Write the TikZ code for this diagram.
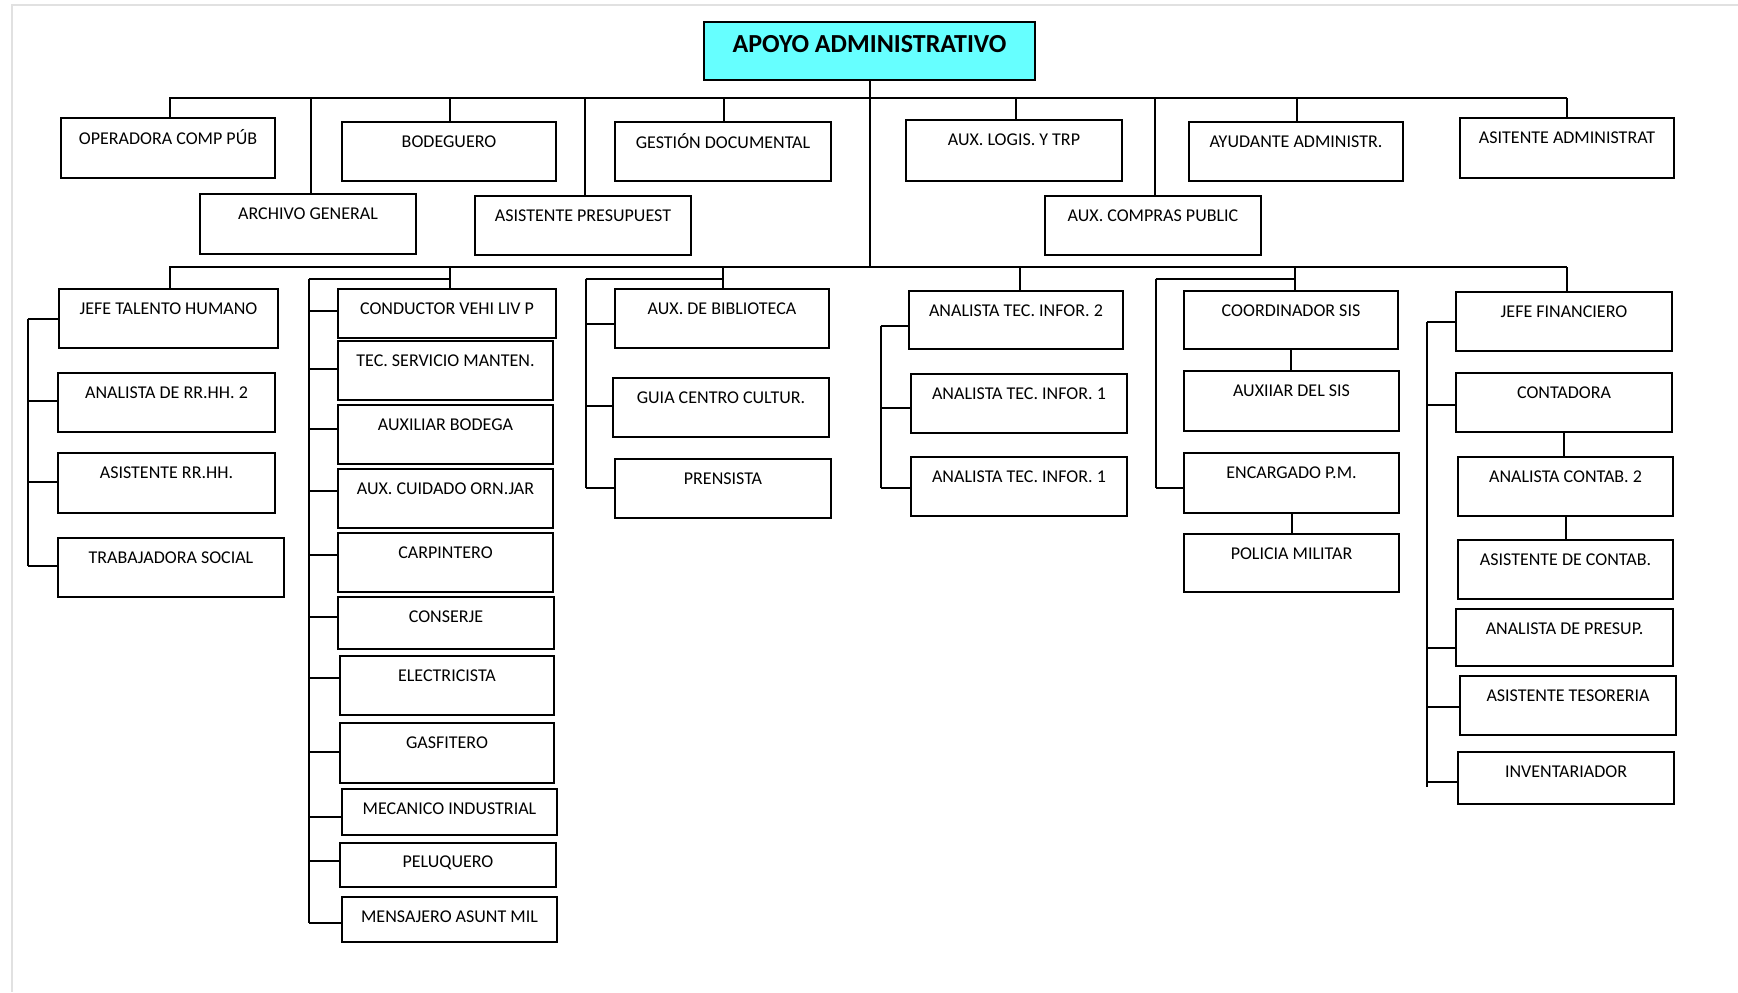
\documentclass[tikz,border=0pt]{standalone}
\usepackage{fontspec}
\setmainfont{Carlito}
\usetikzlibrary{calc}
\definecolor{titlecyan}{RGB}{102,255,255}
\definecolor{framegray}{RGB}{225,225,225}
\tikzset{
  orgrect/.style={draw=black, line width=1pt, inner sep=0pt, outer sep=0pt, fill=white},
  orglbl/.style={font=\fontsize{9}{10}\selectfont, inner sep=0pt, text=black},
  titlelbl/.style={font=\bfseries\fontsize{13}{15}\selectfont, inner sep=0pt, text=black},
  conn/.style={draw=black, line width=1pt},
}
\newcommand{\orgbox}[6]{%
  \node[orgrect, minimum width={(#4-#2)*0.5pt}, minimum height={(#5-#3)*0.5pt}] (#1) at ({(#2+#4)/2},{(#3+#5)/2}) {};
  \node[orglbl] (#1-t) at ($(#1.north)+(0,19.5)$) {#6};
}
\begin{document}
\begin{tikzpicture}[x=0.5pt, y=-0.5pt]
\useasboundingbox (0,0) rectangle (1738,992);
\draw[framegray, line width=0.8pt] (12,992) -- (12,5) -- (1738,5);

% title
\node[orgrect, fill=titlecyan, minimum width={331*0.5pt}, minimum height={58*0.5pt}] (apoyo) at (869.5,51) {};
\node[titlelbl] (apoyo-t) at ($(apoyo.north)+(0,22.5)$) {APOYO ADMINISTRATIVO};

% top row
\orgbox{op}{61}{118}{275}{178}{OPERADORA COMP PÚB}
\orgbox{bod}{342}{122}{556}{181}{BODEGUERO}
\orgbox{gest}{615}{122}{831}{181}{GESTIÓN DOCUMENTAL}
\orgbox{arch}{200}{194}{416}{254}{ARCHIVO GENERAL}
\orgbox{asp}{475}{196}{691}{255}{ASISTENTE PRESUPUEST}
\orgbox{auxl}{906}{120}{1122}{181}{AUX. LOGIS. Y TRP}
\orgbox{ayud}{1189}{122}{1403}{181}{AYUDANTE ADMINISTR.}
\orgbox{asit}{1460}{118}{1674}{178}{ASITENTE ADMINISTRAT}
\orgbox{auxc}{1045}{196}{1261}{255}{AUX. COMPRAS PUBLIC}

% group 1
\orgbox{jth}{59}{289}{278}{348}{JEFE TALENTO HUMANO}
\orgbox{anrh}{58}{373}{275}{432}{ANALISTA DE RR.HH. 2}
\orgbox{asrh}{58}{453}{275}{513}{ASISTENTE RR.HH.}
\orgbox{trab}{58}{538}{284}{597}{TRABAJADORA SOCIAL}

% group 2
\orgbox{cond}{338}{289}{556}{338}{CONDUCTOR VEHI LIV P}
\orgbox{tec}{338}{341}{553}{400}{TEC. SERVICIO MANTEN.}
\orgbox{auxb}{338}{405}{553}{464}{AUXILIAR BODEGA}
\orgbox{cuid}{338}{469}{553}{528}{AUX. CUIDADO ORN.JAR}
\orgbox{carp}{338}{533}{553}{592}{CARPINTERO}
\orgbox{cons}{338}{597}{554}{649}{CONSERJE}
\orgbox{elec}{340}{656}{554}{715}{ELECTRICISTA}
\orgbox{gasf}{340}{723}{554}{783}{GASFITERO}
\orgbox{meca}{342}{789}{557}{835}{MECANICO INDUSTRIAL}
\orgbox{pelu}{340}{843}{556}{887}{PELUQUERO}
\orgbox{mens}{342}{897}{557}{942}{MENSAJERO ASUNT MIL}

% group 3
\orgbox{bib}{615}{289}{829}{348}{AUX. DE BIBLIOTECA}
\orgbox{guia}{613}{378}{829}{437}{GUIA CENTRO CULTUR.}
\orgbox{pren}{615}{459}{831}{518}{PRENSISTA}

% group 4
\orgbox{atb}{909}{291}{1123}{349}{ANALISTA TEC. INFOR. 2}
\orgbox{ata}{911}{374}{1127}{433}{ANALISTA TEC. INFOR. 1}
\orgbox{atc}{911}{457}{1127}{516}{ANALISTA TEC. INFOR. 1}

% group 5
\orgbox{coord}{1184}{291}{1398}{349}{COORDINADOR SIS}
\orgbox{auxs}{1184}{371}{1399}{431}{AUXIIAR DEL SIS}
\orgbox{enc}{1184}{453}{1399}{513}{ENCARGADO P.M.}
\orgbox{pol}{1184}{534}{1399}{592}{POLICIA MILITAR}

% group 6
\orgbox{jfin}{1456}{292}{1672}{351}{JEFE FINANCIERO}
\orgbox{cont}{1456}{373}{1672}{432}{CONTADORA}
\orgbox{anca}{1458}{457}{1673}{516}{ANALISTA CONTAB. 2}
\orgbox{asc}{1458}{540}{1673}{599}{ASISTENTE DE CONTAB.}
\orgbox{anp}{1456}{609}{1673}{666}{ANALISTA DE PRESUP.}
\orgbox{teso}{1460}{676}{1676}{735}{ASISTENTE TESORERIA}
\orgbox{inv}{1458}{752}{1674}{804}{INVENTARIADOR}

% buses
\coordinate (tbL) at (169,98);
\coordinate (tbR) at (1567,98);
\coordinate (bbL) at (169,267);
\coordinate (bbR) at (1567,267);
\draw[conn] (tbL) -- (tbR);
\draw[conn] (bbL) -- (bbR);
\draw[conn] (apoyo.south) -- (apoyo.south |- bbL);

% top drops
\foreach \n/\dx in {op/170, arch/311, bod/450, asp/585, gest/724, auxl/1016, auxc/1155, ayud/1297, asit/1567}{
  \coordinate (dt-\n) at (\dx,98);
  \draw[conn] (dt-\n) -- (dt-\n |- \n.north);
}
% bottom drops
\foreach \n/\dx in {jth/170, cond/450, bib/722.5, atb/1019.6, coord/1295, jfin/1567}{
  \coordinate (db-\n) at (\dx,267);
  \draw[conn] (db-\n) -- (db-\n |- \n.north);
}

% elbows
\coordinate (e2) at (309,279);
\coordinate (e3) at (585.5,279);
\coordinate (e5) at (1155.6,279);
\draw[conn] (e2) -- (e2 -| db-cond);
\draw[conn] (e3) -- (e3 -| db-bib);
\draw[conn] (e5) -- (e5 -| db-coord);

% ticks
\foreach \n/\sx/\ty in {
  jth/27.7/319, anrh/27.7/401, asrh/27.7/482, trab/27.7/566,
  cond/309/310.7, tec/309/369.3, auxb/309/428.7, cuid/309/490.7, carp/309/554.7,
  cons/309/617, elec/309/677.7, gasf/309/752, meca/309/817.3, pelu/309/861.3, mens/309/923,
  bib/585.5/324, guia/585.5/406.3, pren/585.5/488,
  atb/880.7/325.7, ata/880.7/408, atc/880.7/488,
  enc/1155.6/488,
  jfin/1427/322.3, cont/1427/405, anp/1427/648.3, teso/1427/706.7, inv/1427/782.3}{
  \coordinate (tk-\n) at (\sx,\ty);
  \draw[conn] (tk-\n) -- (tk-\n -| \n.west);
}

% spines
\coordinate (s6end) at (1427,786.7);
\draw[conn] (tk-jth) -- (tk-trab);
\draw[conn] (e2) -- (tk-mens);
\draw[conn] (e3) -- (tk-pren);
\draw[conn] (tk-atb) -- (tk-atc);
\draw[conn] (e5) -- (tk-enc);
\draw[conn] (tk-jfin) -- (s6end);

% direct links
\draw[conn] (coord.south) -- (coord.south |- auxs.north);
\draw[conn] (enc.south) -- (enc.south |- pol.north);
\draw[conn] (cont.south) -- (cont.south |- anca.north);
\draw[conn] (anca.south) -- (anca.south |- asc.north);
\end{tikzpicture}
\end{document}
